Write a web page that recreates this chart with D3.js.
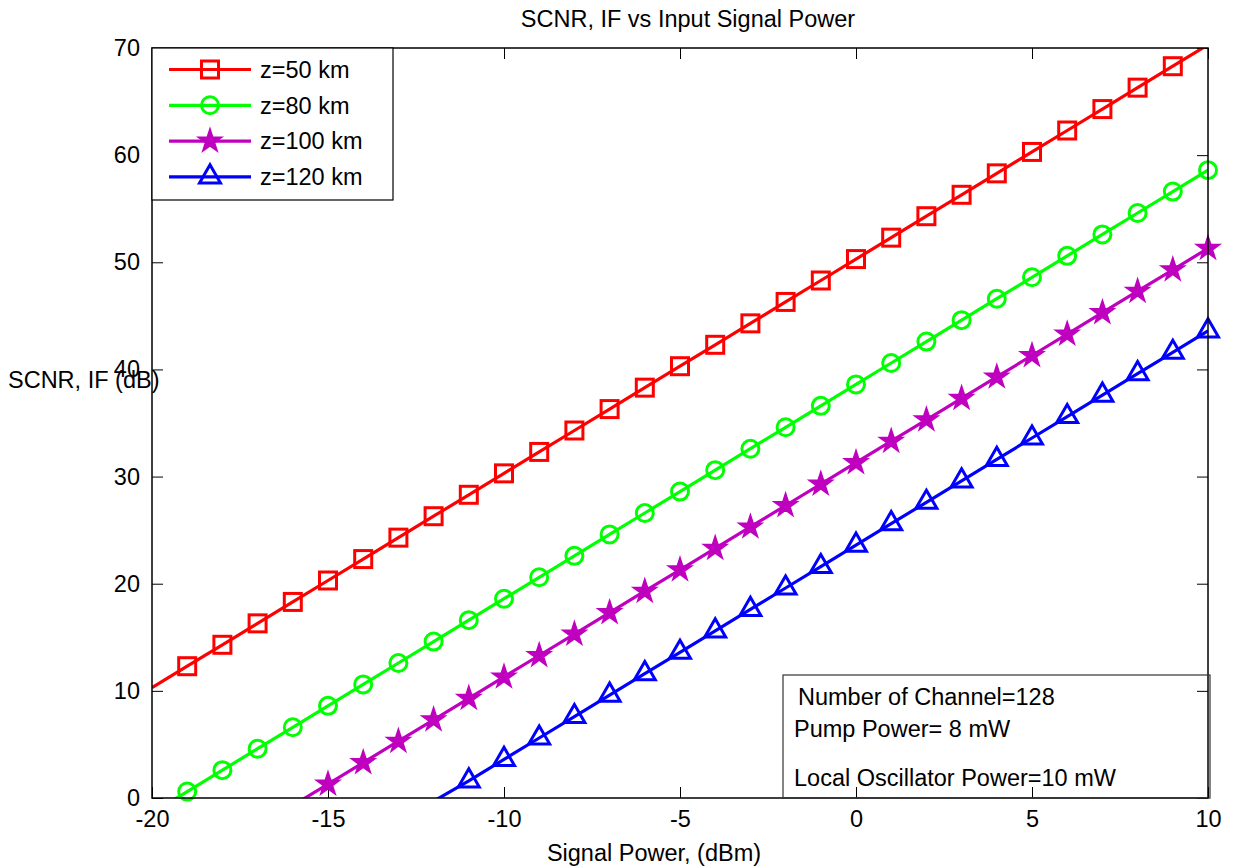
<!DOCTYPE html>
<html>
<head>
<meta charset="utf-8">
<script src="https://cdn.jsdelivr.net/npm/d3@7"></script>
<style>
  body { margin: 0; background: #fff; }
  svg text { font-family: "Liberation Sans", Arial, sans-serif; font-size: 23.5px; fill: #000; }
</style>
</head>
<body>
<div id="chart"></div>
<script>
// signal power (dBm)
const powerDbm = [-20, -19, -18, -17, -16, -15, -14, -13, -12, -11, -10, -9, -8, -7, -6, -5,
  -4, -3, -2, -1, 0, 1, 2, 3, 4, 5, 6, 7, 8, 9, 10];

// SCNR, IF (dB)
const scnr50 = [10.3, 12.3, 14.3, 16.3, 18.3, 20.3, 22.3, 24.3, 26.3, 28.3, 30.3, 32.3, 34.3, 36.3, 38.3, 40.3,
  42.3, 44.3, 46.3, 48.3, 50.3, 52.3, 54.3, 56.3, 58.3, 60.3, 62.3, 64.3, 66.3, 68.3, 70.3];
const scnr80 = [-1.4, 0.6, 2.6, 4.6, 6.6, 8.6, 10.6, 12.6, 14.6, 16.6, 18.6, 20.6, 22.6, 24.6, 26.6, 28.6,
  30.6, 32.6, 34.6, 36.6, 38.6, 40.6, 42.6, 44.6, 46.6, 48.6, 50.6, 52.6, 54.6, 56.6, 58.6];
const scnr100 = [-8.7, -6.7, -4.7, -2.7, -0.7, 1.3, 3.3, 5.3, 7.3, 9.3, 11.3, 13.3, 15.3, 17.3, 19.3, 21.3,
  23.3, 25.3, 27.3, 29.3, 31.3, 33.3, 35.3, 37.3, 39.3, 41.3, 43.3, 45.3, 47.3, 49.3, 51.3];
const scnr120 = [-16.3, -14.3, -12.3, -10.3, -8.3, -6.3, -4.3, -2.3, -0.3, 1.6, 3.6, 5.6, 7.6, 9.6, 11.6, 13.6,
  15.6, 17.6, 19.6, 21.6, 23.6, 25.6, 27.6, 29.6, 31.6, 33.6, 35.6, 37.6, 39.6, 41.6, 43.6];

const seriesNames = ["z=50 km", "z=80 km", "z=100 km", "z=120 km"];
const seriesColors = ["#ff0000", "#00ff00", "#bf00bf", "#0000ff"];
const seriesMarkers = ["square", "circle", "star", "triangle"];
const seriesValues = [scnr50, scnr80, scnr100, scnr120];

const xTicks = [-20, -15, -10, -5, 0, 5, 10];
const yTicks = [0, 10, 20, 30, 40, 50, 60, 70];
const infoLines = ["Number of Channel=128", "Pump Power= 8 mW", "Local Oscillator Power=10 mW"];

const W = 1237, H = 868;
const margin = {top: 48, right: 29, bottom: 70, left: 152};
const width = W - margin.left - margin.right,
      height = H - margin.top - margin.bottom;

const svg = d3.select("#chart").append("svg")
    .attr("width", W)
    .attr("height", H);

const g = svg.append("g")
    .attr("transform", "translate(" + margin.left + "," + margin.top + ")");

const x = d3.scaleLinear().domain([-20, 10]).range([0, width]);
const y = d3.scaleLinear().domain([0, 70]).range([height, 0]);

svg.append("defs").append("clipPath").attr("id", "plot-clip")
  .append("rect").attr("width", width).attr("height", height);

// plain hyphen minus, like the original
const fmt = d => String(d);

// axes, ticks pointing inward on all four sides
function styleAxis(sel) {
  sel.select(".domain").remove();
  sel.selectAll(".tick line").attr("stroke", "#000").attr("stroke-width", 1);
  sel.selectAll("text").style("font-size", "23.5px");
}

g.append("g")
    .attr("transform", "translate(0," + height + ")")
    .call(d3.axisBottom(x).tickValues(xTicks).tickFormat(fmt).tickSizeInner(-11).tickSizeOuter(0).tickPadding(12))
    .call(styleAxis);
g.append("g")
    .call(d3.axisTop(x).tickValues(xTicks).tickSizeInner(-11).tickSizeOuter(0).tickFormat(""))
    .call(styleAxis);
g.append("g")
    .call(d3.axisLeft(y).tickValues(yTicks).tickFormat(fmt).tickSizeInner(-11).tickSizeOuter(0).tickPadding(12))
    .call(styleAxis);
g.append("g")
    .attr("transform", "translate(" + width + ",0)")
    .call(d3.axisRight(y).tickValues(yTicks).tickSizeInner(-11).tickSizeOuter(0).tickFormat(""))
    .call(styleAxis);

// marker drawing
function drawMarker(sel, type, color) {
  if (type === "square") {
    sel.append("rect")
      .attr("x", -8.5).attr("y", -8.5).attr("width", 17).attr("height", 17)
      .attr("fill", "none").attr("stroke", color).attr("stroke-width", 3);
  } else if (type === "circle") {
    sel.append("circle")
      .attr("r", 8.5)
      .attr("fill", "none").attr("stroke", color).attr("stroke-width", 3);
  } else if (type === "star") {
    sel.append("path")
      .attr("d", d3.symbol(d3.symbolStar, 170)())
      .attr("fill", color).attr("stroke", color).attr("stroke-width", 1.5);
  } else {
    sel.append("path")
      .attr("d", d3.symbol(d3.symbolTriangle, 190)())
      .attr("fill", "none").attr("stroke", color).attr("stroke-width", 3);
  }
}

const line = d3.line()
  .x(d => x(d[0]))
  .y(d => y(d[1]));

const plot = g.append("g").attr("clip-path", "url(#plot-clip)");

seriesValues.forEach((vals, i) => {
  const pts = powerDbm.map((p, j) => [p, vals[j]]);
  plot.append("path")
    .datum(pts)
    .attr("fill", "none")
    .attr("stroke", seriesColors[i])
    .attr("stroke-width", 3.2)
    .attr("d", line);

  const marks = g.append("g").selectAll("g")
    .data(pts.filter(d => d[0] > -20 && d[1] >= 0 && d[1] <= 70))
    .enter().append("g")
      .attr("transform", d => "translate(" + x(d[0]) + "," + y(d[1]) + ")");
  drawMarker(marks, seriesMarkers[i], seriesColors[i]);
});

// plot box
g.append("rect")
  .attr("width", width).attr("height", height)
  .attr("fill", "none").attr("stroke", "#000").attr("stroke-width", 1.5);

// legend
const legend = g.append("g");
legend.append("rect")
  .attr("x", 0).attr("y", 0).attr("width", 241).attr("height", 152)
  .attr("fill", "#fff").attr("stroke", "#000").attr("stroke-width", 1.2);

const entry = legend.selectAll(".legend")
  .data(seriesNames)
  .enter().append("g")
    .attr("class", "legend")
    .attr("transform", (d, i) => "translate(0," + (21.5 + i * 35.8) + ")");

entry.append("line")
  .attr("x1", 17).attr("x2", 99)
  .attr("stroke", (d, i) => seriesColors[i]).attr("stroke-width", 3.2);
entry.each(function(d, i) {
  drawMarker(d3.select(this).append("g").attr("transform", "translate(58,0)"), seriesMarkers[i], seriesColors[i]);
});
entry.append("text")
  .attr("x", 108)
  .attr("dy", ".35em")
  .text(d => d);

// info box
const info = g.append("g").attr("transform", "translate(" + (783 - margin.left) + "," + (675 - margin.top) + ")");
info.append("rect")
  .attr("width", 427).attr("height", height - (675 - margin.top))
  .attr("fill", "none").attr("stroke", "#333").attr("stroke-width", 1.2);
info.selectAll("text")
  .data(infoLines)
  .enter().append("text")
    .attr("x", (d, i) => i === 0 ? 15 : 11)
    .attr("y", (d, i) => [30, 62, 111][i])
    .text(d => d);

// title and axis labels
svg.append("text")
  .attr("x", 688).attr("y", 27)
  .attr("text-anchor", "middle")
  .text("SCNR, IF vs Input Signal Power");
svg.append("text")
  .attr("x", 654).attr("y", 861)
  .attr("text-anchor", "middle")
  .text("Signal Power, (dBm)");
svg.append("text")
  .attr("x", 8).attr("y", 388)
  .text("SCNR, IF (dB)");
</script>
</body>
</html>
